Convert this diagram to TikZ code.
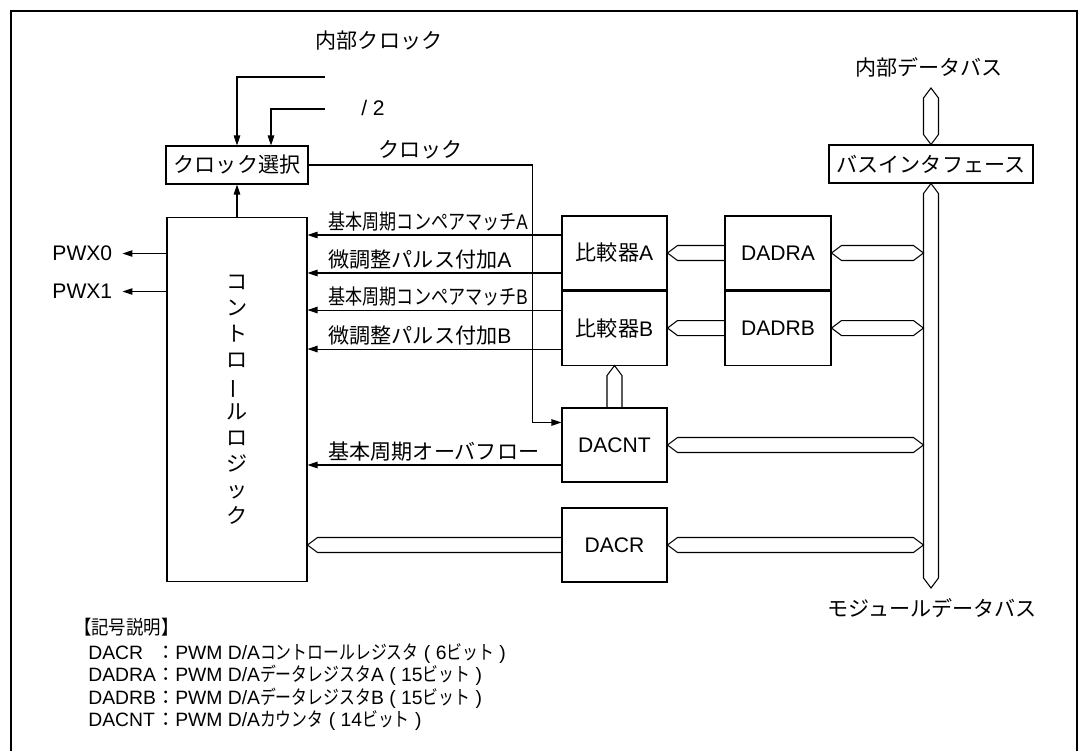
\documentclass[tikz,border=0pt]{standalone}
\usepackage{fontspec}
\usepackage{graphicx}
\setmainfont{Liberation Sans}
\newfontfamily\jpfont{Noto Sans CJK JP}
\newcommand\jp[1]{{\jpfont #1}}
\newcommand\jpp[1]{\scalebox{0.82}[1]{\jpfont #1}}
\usetikzlibrary{arrows.meta, positioning, calc}

% bus outlines: tip at #1, flat or tip at #2
\newcommand\hbusLR[2]{\draw[bus] (#1) -- ++(10,-7.5) -- ($(#2)+(-10,-7.5)$) -- (#2) -- ++(-10,7.5) -- ($(#1)+(10,7.5)$) -- cycle;}
\newcommand\hbusL[2]{\draw[bus] ($(#2)+(0,-7.5)$) -- ($(#1)+(10,-7.5)$) -- (#1) -- ++(10,7.5) -- ($(#2)+(0,7.5)$);}
\newcommand\vbusUD[2]{\draw[bus] (#1) -- ++(-7.5,10) -- ($(#2)+(-7.5,-10)$) -- (#2) -- ++(7.5,-10) -- ($(#1)+(7.5,10)$) -- cycle;}
\newcommand\vbusU[2]{\draw[bus] ($(#2)+(-7.5,0)$) -- ($(#1)+(-7.5,10)$) -- (#1) -- ++(7.5,10) -- ($(#2)+(7.5,0)$);}

\begin{document}
\begin{tikzpicture}[
  x=0.02cm, y=-0.02cm,
  blk/.style={rectangle, draw, line width=0.6pt, inner sep=0pt,
              minimum width=2.1cm, minimum height=1.48cm,
              font=\fontsize{12}{14}\selectfont},
  lbl/.style={inner sep=1pt, font=\fontsize{12}{14}\selectfont},
  sig/.style={-{Triangle[length=2mm, width=1.3mm]}, line width=0.6pt},
  bus/.style={line width=0.6pt, line join=miter}
]
\useasboundingbox (0,0) rectangle (1080,751);

%% frame
\draw[line width=0.6pt] (11,751) -- (11,11) -- (1077,11) -- (1077,751);

%% blocks
\node[blk, minimum width=2.84cm, minimum height=0.76cm] (clksel) at (237,165) {\jp{クロック選択}};
\node[blk, minimum width=2.8cm, minimum height=7.3cm, align=center,
      font=\jpfont\fontsize{12}{14.8}\selectfont] (ctrl) at (237,399.5)
  {コ\\ン\\ト\\ロ\\\rotatebox[origin=c]{90}{ー}\\ル\\ロ\\ジ\\ッ\\ク};

\node[blk] (cmpa) at (614.5,253) {\jp{比較器}A};
\node[blk, below=0pt of cmpa] (cmpb) {\jp{比較器}B};
\node[blk, minimum width=2.12cm] (dadra) at (778,253) {DADRA};
\node[blk, minimum width=2.12cm, below=0pt of dadra] (dadrb) {DADRB};
\node[blk] (dacnt) at (614.5,445) {DACNT};
\node[blk] (dacr)  at (614.5,545) {DACR};
\node[blk, minimum width=4.08cm, minimum height=0.76cm] (busif) at (931,164) {\jp{バスインタフェース}};

%% free labels and bus ends
\node[lbl] (clklbl)  at (379,41)  {\jp{内部クロック}};
\node[lbl] (divlbl)  at (373,108) {/ 2};
\node[lbl] (ibuslbl) at (929,67)  {\jp{内部データバス}};
\node[lbl] (mbuslbl) at (932,608) {\jp{モジュールデータバス}};

\coordinate (clkin)  at (325,77);
\coordinate (clkdiv) at (325,109);
\coordinate (ibus)   at (931,88);
\coordinate (mbus)   at (931,588);
\coordinate (busl)   at (923.5,400);
\coordinate (clkn2)  at ($(clksel.north)+(34,0)$);

%% clock
\draw[sig] (clkin) -| (clksel.north);
\draw[sig] (clkdiv) -| (clkn2);
\draw[sig] (ctrl.north) -- (clksel.south);
\draw[sig] (clksel.east) -- node[lbl, above=2pt]{\jp{クロック}} ++(224,0)
  |- ($(dacnt.north west)+(0,15)$);

%% outputs
\draw[sig] ($(ctrl.north west)+(0,37)$) -- ++(-44,0) node[lbl, left=0.16cm]{PWX0};
\draw[sig] ($(ctrl.north west)+(0,75)$) -- ++(-44,0) node[lbl, left=0.16cm]{PWX1};

%% comparator signals
\draw[sig] ($(cmpa.west)+(0,-18)$) coordinate (ma) -- (ma -| ctrl.east);
\draw[sig] ($(cmpa.west)+(0,20)$)  coordinate (fa) -- (fa -| ctrl.east);
\draw[sig] ($(cmpb.west)+(0,-18)$) coordinate (mb) -- (mb -| ctrl.east);
\draw[sig] ($(cmpb.west)+(0,21)$)  coordinate (fb) -- (fb -| ctrl.east);
\draw[sig] ($(dacnt.west)+(0,20)$) coordinate (ov) -- (ov -| ctrl.east);

\node[lbl, anchor=south west] at ($(ma -| ctrl.east)+(19,-2)$)
  {\scalebox{0.81}[1]{\jp{基本周期コンペアマッチ}A}};
\node[lbl, anchor=south west] at ($(fa -| ctrl.east)+(19,-2)$) {\jp{微調整パルス付加}A};
\node[lbl, anchor=south west] at ($(mb -| ctrl.east)+(19,-2)$)
  {\scalebox{0.81}[1]{\jp{基本周期コンペアマッチ}B}};
\node[lbl, anchor=south west] at ($(fb -| ctrl.east)+(19,-2)$) {\jp{微調整パルス付加}B};
\node[lbl, anchor=south west] at ($(ov -| ctrl.east)+(19,-2)$) {\jp{基本周期オーバフロー}};

%% buses
\vbusUD{ibus}{busif.north}
\vbusUD{busif.south}{mbus}
\hbusL{cmpa.east}{dadra.west}
\hbusL{cmpb.east}{dadrb.west}
\hbusLR{dadra.east}{dadra.east -| busl}
\hbusLR{dadrb.east}{dadrb.east -| busl}
\hbusLR{dacnt.east}{dacnt.east -| busl}
\hbusLR{dacr.east}{dacr.east -| busl}
\vbusU{cmpb.south}{dacnt.north}
\hbusL{ctrl.east |- dacr.west}{dacr.west}

%% legend
\node[lbl, anchor=west, font=\fontsize{11}{13}\selectfont] (legtitle) at (72,627)
  {\scalebox{0.9}[1]{\jp{【記号説明】}}};
\node[anchor=north west, inner sep=0pt, font=\fontsize{11}{11.6}\selectfont] (legend) at (88,643)
  {\begin{tabular}{@{}l@{}l@{}}
   DACR  & \jp{：}PWM D/A\jpp{コントロールレジスタ} ( 6\jpp{ビット} )\\
   DADRA & \jp{：}PWM D/A\jpp{データレジスタ}A ( 15\jpp{ビット} )\\
   DADRB & \jp{：}PWM D/A\jpp{データレジスタ}B ( 15\jpp{ビット} )\\
   DACNT & \jp{：}PWM D/A\jpp{カウンタ} ( 14\jpp{ビット} )
   \end{tabular}};

\end{tikzpicture}
\end{document}
